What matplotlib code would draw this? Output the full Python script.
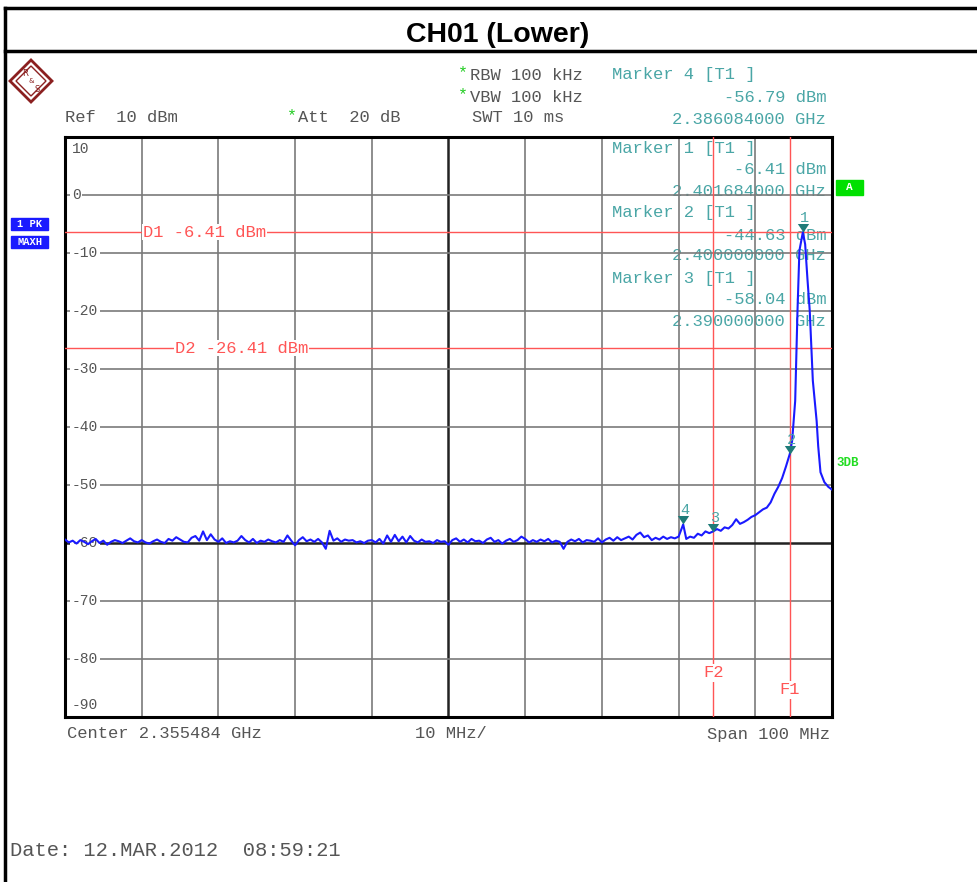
import numpy as np
import matplotlib.pyplot as plt
from matplotlib.patches import Polygon, Rectangle

# sweep settings
center_ghz = 2.355484
span_ghz = 0.1
start_ghz = center_ghz - span_ghz / 2
ref_dbm = 10
bottom_dbm = -90

grid_levels = [0, -10, -20, -30, -40, -50, -60, -70, -80]
level_labels = ['0', '-10', '-20', '-30', '-40', '-50', '-60', '-70', '-80']

# noise floor, one point every 0.5 MHz from the start frequency (0 .. 80 MHz)
noise_step_mhz = 0.5
noise_dbm = [
    -59.4, -59.9, -59.6, -60.1, -59.5, -59.8, -60.2, -59.7, -59.3, -60.0,
    -59.6, -60.3, -59.8, -59.5, -59.7, -60.0, -59.6, -59.2, -59.7, -59.9,
    -59.5, -59.9, -60.1, -59.7, -59.4, -59.8, -60.0, -59.3, -59.6, -59.0,
    -59.4, -59.8, -59.9, -59.1, -58.8, -59.6, -58.0, -59.5, -58.5, -59.4,
    -59.8, -59.2, -60.0, -59.7, -59.9, -59.6, -58.8, -59.5, -59.9, -59.3,
    -60.0, -59.6, -59.8, -59.4, -59.7, -59.9, -59.5, -59.8, -58.7, -59.6,
    -60.4, -59.5, -59.0, -59.7, -59.4, -59.8, -59.3, -59.9, -61.0, -57.9,
    -59.6, -59.2, -59.8, -59.4, -59.6, -59.5, -59.9, -59.7, -60.0, -59.6,
    -59.5, -59.9, -59.3, -60.1, -58.7, -59.8, -58.6, -59.7, -58.9, -59.9,
    -58.8, -59.6, -59.9, -59.4, -59.8, -59.7, -60.0, -59.5, -59.8, -59.7,
    -60.3, -59.5, -59.2, -59.8, -59.4, -59.9, -59.3, -59.7, -59.6, -60.0,
    -59.4, -59.1, -59.8, -59.5, -60.1, -59.6, -59.3, -59.8, -59.5, -58.9,
    -59.3, -59.9, -59.5, -59.8, -59.4, -59.7, -59.3, -59.9, -59.6, -59.8,
    -61.0, -59.8, -59.4, -59.7, -59.3, -59.9, -59.5, -59.6, -59.8, -59.2,
    -59.9, -59.4, -59.1, -59.6, -59.0, -59.5, -59.2, -58.9, -59.4, -58.6,
    -58.2, -59.0, -58.7, -59.5, -59.1, -59.4, -58.9, -59.3, -59.0, -59.2,
    -58.9,
]

# skirt and carrier peak (MHz above start frequency, dBm)
skirt_mhz = [80.6, 81.0, 81.5, 82.0, 82.5, 83.0, 83.5, 84.0, 84.5, 85.0,
             85.5, 86.0, 86.5, 87.0, 87.5, 88.0, 88.5, 89.0, 89.5, 90.0,
             90.5, 91.0, 91.5, 92.0, 92.5, 93.0, 93.5, 94.0, 94.5, 94.8,
             95.2, 95.5, 95.75, 96.2, 96.5, 96.8, 97.1, 97.5, 98.0, 98.2,
             98.5, 99.0, 99.5, 100.0]
skirt_dbm = [-56.79, -59.3, -58.9, -59.1, -58.4, -58.7, -58.0, -58.3, -58.0, -57.6,
             -57.9, -57.3, -57.5, -56.9, -55.9, -56.7, -56.4, -56.0, -55.5, -55.2,
             -54.7, -54.2, -53.9, -53.0, -51.5, -50.3, -48.8, -46.8, -44.63, -42.4,
             -35.5, -20.0, -9.6, -6.41, -8.5, -14.5, -20.0, -32.0, -39.0, -43.3,
             -47.8, -49.5, -50.3, -50.8]

display_names = ['D1', 'D2']
display_dbm = [-6.41, -26.41]
freq_names = ['F1', 'F2']
freq_ghz = [2.400, 2.390]

marker_num = ['1', '2', '3', '4']
marker_ghz = [2.401684, 2.400000, 2.390000, 2.386084]
marker_dbm = [-6.41, -44.63, -58.04, -56.79]

GRAY = '#555555'
TEAL = '#4aa6a6'
RED = '#ff5555'
MONO = 'Liberation Mono'

W, H = 978, 882
fig = plt.figure(figsize=(W / 100, H / 100), dpi=100)

# page overlay in pixel coordinates
pg = fig.add_axes([0, 0, 1, 1], zorder=0)
pg.set_xlim(0, W)
pg.set_ylim(H, 0)
pg.axis('off')
pg.plot([5, 5], [8, H], color='black', lw=2.5)
pg.plot([5, W], [8, 8], color='black', lw=2.5)
pg.plot([5, W], [51, 51], color='black', lw=2.5)
pg.text(498, 35, 'CH01 (Lower)', ha='center', va='center', fontsize=20.5,
        fontweight='bold', family='Liberation Sans')

# R&S logo
pg.add_patch(Polygon([[31, 60], [52, 81], [31, 102], [10, 81]], closed=True,
                     fill=False, ec='#8b2020', lw=2))
pg.add_patch(Polygon([[31, 66], [46, 81], [31, 96], [16, 81]], closed=True,
                     fill=False, ec='#8b2020', lw=1))
pg.text(25, 74, 'R', color='#8b2020', fontsize=6, ha='center', va='center')
pg.text(31, 81, '&', color='#8b2020', fontsize=5, ha='center', va='center')
pg.text(37, 89, 'S', color='#8b2020', fontsize=6, ha='center', va='center')

gray_texts = [
    ('Ref  10 dBm', 65, 118, 'left'),
    ('Att  20 dB', 298, 118, 'left'),
    ('SWT 10 ms', 472, 118, 'left'),
    ('RBW 100 kHz', 470, 75, 'left'),
    ('VBW 100 kHz', 470, 97, 'left'),
    ('Center 2.355484 GHz', 67, 734, 'left'),
    ('10 MHz/', 415, 734, 'left'),
    ('Span 100 MHz', 830, 734, 'right'),
]
for s, x, y, ha in gray_texts:
    pg.text(x, y, s, ha=ha, va='center', fontsize=12.3, family=MONO, color=GRAY)
for x, y in [(292, 116), (463, 73), (463, 95)]:
    pg.text(x, y, '*', ha='center', va='center', fontsize=12, family=MONO,
            color='#22cc22')
pg.text(10, 851, 'Date: 12.MAR.2012  08:59:21', ha='left', va='center',
        fontsize=14.7, family=MONO, color=GRAY)

teal_texts = [
    ('Marker 4 [T1 ]', 612, 75, 'left'),
    ('-56.79 dBm', 826, 97, 'right'),
    ('2.386084000 GHz', 826, 119, 'right'),
    ('Marker 1 [T1 ]', 612, 149, 'left'),
    ('-6.41 dBm', 826, 170, 'right'),
    ('2.401684000 GHz', 826, 191, 'right'),
    ('Marker 2 [T1 ]', 612, 213, 'left'),
    ('-44.63 dBm', 826, 235, 'right'),
    ('2.400000000 GHz', 826, 256, 'right'),
    ('Marker 3 [T1 ]', 612, 278, 'left'),
    ('-58.04 dBm', 826, 299, 'right'),
    ('2.390000000 GHz', 826, 321, 'right'),
]
for s, x, y, ha in teal_texts:
    pg.text(x, y, s, ha=ha, va='center', fontsize=12.3, family=MONO, color=TEAL)

# side badges
pg.add_patch(Rectangle((836, 180), 27, 15, color='#00e000'))
pg.text(849.5, 187.5, 'A', ha='center', va='center', color='white',
        fontsize=8, fontweight='bold', family=MONO)
pg.text(836, 463, '3DB', ha='left', va='center', color='#22dd22',
        fontsize=9, fontweight='bold', family=MONO)
for s, y in [('1 PK', 224), ('MAXH', 242)]:
    pg.add_patch(Rectangle((11, y - 6), 37, 12, color='#1a1aff'))
    pg.text(29.5, y, s, ha='center', va='center', color='white', fontsize=7.5,
            fontweight='bold', family=MONO)

# analyzer screen
ax = fig.add_axes([65 / W, 1 - 717 / H, (832 - 65) / W, (717 - 137) / H], zorder=1)
ax.set_facecolor('none')
ax.set_xlim(start_ghz, start_ghz + span_ghz)
ax.set_ylim(bottom_dbm, ref_dbm)
ax.set_xticks([])
ax.set_yticks([])
for sp in ax.spines.values():
    sp.set_linewidth(2.2)
    sp.set_color('black')

for k in range(1, 10):
    xg = start_ghz + k * span_ghz / 10
    dark = k == 5
    ax.axvline(xg, color='#222222' if dark else '#7a7a7a',
               lw=1.8 if dark else 1.2, zorder=2)
for lv, lab in zip(grid_levels, level_labels):
    dark = lv == -60
    ax.axhline(lv, color='#222222' if dark else '#7a7a7a',
               lw=1.8 if dark else 1.2, zorder=2)
    ax.text(0.009, lv, lab, transform=ax.get_yaxis_transform(), ha='left',
            va='center', fontsize=10.5, family=MONO, color=GRAY, zorder=3,
            bbox=dict(fc='white', ec='none', pad=1))
ax.text(0.009, 8, '10', transform=ax.get_yaxis_transform(), ha='left',
        va='center', fontsize=10.5, family=MONO, color=GRAY)
ax.text(0.009, -88, '-90', transform=ax.get_yaxis_transform(), ha='left',
        va='center', fontsize=10.5, family=MONO, color=GRAY)

# display and frequency lines
d_label_px = [143, 175]
for name, lv, px in zip(display_names, display_dbm, d_label_px):
    ax.axhline(lv, color=RED, lw=1.0, zorder=4)
    ax.text((px - 65) / (832 - 65), lv, f'{name} {lv:.2f} dBm',
            transform=ax.get_yaxis_transform(), ha='left', va='center',
            fontsize=12.3, family=MONO, color=RED, zorder=5,
            bbox=dict(fc='white', ec='none', pad=0.5))
f_label_y = [-85.3, -82.4]
for name, fg, ly in zip(freq_names, freq_ghz, f_label_y):
    ax.axvline(fg, color=RED, lw=1.0, zorder=4)
    ax.text(fg, ly, name, ha='center', va='center', fontsize=12.3,
            family=MONO, color=RED, zorder=5,
            bbox=dict(fc='white', ec='none', pad=1))

# trace
noise_ghz = start_ghz + np.arange(len(noise_dbm)) * noise_step_mhz / 1000
skirt_ghz = start_ghz + np.array(skirt_mhz) / 1000
trace_ghz = np.concatenate([noise_ghz, skirt_ghz])
trace_dbm = np.concatenate([noise_dbm, skirt_dbm])
ax.plot(trace_ghz, trace_dbm, color='#1a1aff', lw=1.5, zorder=6, clip_on=True)

# markers: triangle tip at the marker point
tri = [(-1, 1.5), (1, 1.5), (0, 0), (-1, 1.5)]
ax.scatter(marker_ghz, marker_dbm, marker=tri, s=150, color='#1e7b78',
           zorder=7, linewidths=0)
for num, mg, md in zip(marker_num, marker_ghz, marker_dbm):
    ax.annotate(num, (mg, md), xytext=(1, 5), textcoords='offset points',
                ha='center', va='bottom', fontsize=11, family=MONO,
                color=TEAL, zorder=8)

fig.savefig('out.png', dpi=100, facecolor='white')
